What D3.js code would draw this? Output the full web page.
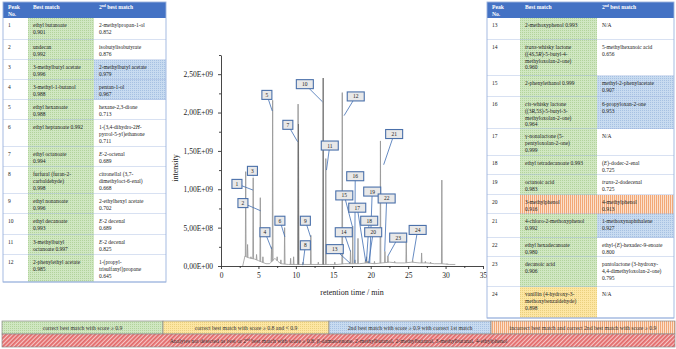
<!DOCTYPE html>
<html><head><meta charset="utf-8">
<script src="https://cdn.jsdelivr.net/npm/d3@7"></script>
<style>
body{margin:0;background:#fff}
svg{display:block}
text{font-family:"Liberation Serif","Times New Roman",serif}
</style>
</head><body>
<svg id="c" width="676" height="349"></svg>
<script>
// ---------------- DATA ----------------
// chromatogram baseline (retention time / min, intensity)
const baseRT  = [2.9, 3.2, 3.6, 4.0, 4.5, 5.0, 5.5, 6.0, 6.5, 7.2, 7.6, 8.0, 9.0, 10.0, 11.0, 12.0, 13.0, 14.5, 15.5, 16.5, 17.5, 18.5, 19.5, 20.5, 21.5, 22.5, 23.5, 24.5, 25.5, 26.5, 27.5, 28.5, 29.5, 30.5, 31.3];
const baseInt = [0, 0.13e9, 0.11e9, 0.10e9, 0.09e9, 0.07e9, 0.05e9, 0.03e9, 0.03e9, 0.10e9, 0.06e9, 0.03e9, 0.02e9, 0.02e9, 0.02e9, 0.02e9, 0.02e9, 0.02e9, 0.02e9, 0.03e9, 0.03e9, 0.03e9, 0.04e9, 0.03e9, 0.04e9, 0.05e9, 0.04e9, 0.04e9, 0.05e9, 0.04e9, 0.04e9, 0.03e9, 0.03e9, 0.02e9, 0.02e9];
// chromatogram peaks
const peakRT  = [3.3, 3.55, 4.0, 4.3, 4.75, 5.25, 5.6, 6.75, 6.9, 7.5, 8.0, 8.5, 9.3, 9.7, 10.3, 10.35, 10.95, 12.0, 13.0, 13.65, 14.0, 15.2, 16.2, 17.2, 17.3, 17.6, 17.9, 18.3, 19.3, 19.45, 19.6, 19.75, 20.5, 21.3, 21.9, 22.3, 23.2, 24.75, 25.6, 26.8, 27.3, 28.0, 29.5, 30.2];
const peakInt = [1.23e9, 0.28e9, 0.12e9, 1.15e9, 0.15e9, 0.89e9, 0.12e9, 0.25e9, 2.16e9, 0.12e9, 0.08e9, 0.50e9, 0.10e9, 0.12e9, 2.11e9, 1.85e9, 0.05e9, 0.40e9, 0.05e9, 2.45e9, 1.40e9, 0.05e9, 2.26e9, 0.05e9, 0.20e9, 0.52e9, 0.08e9, 0.36e9, 0.08e9, 0.12e9, 0.06e9, 0.06e9, 0.06e9, 1.63e9, 0.19e9, 0.13e9, 0.06e9, 0.34e9, 0.08e9, 0.17e9, 0.06e9, 0.05e9, 1.12e9, 0.03e9];
// peak labels: number, label anchor (rt, intensity), pointer target (rt, intensity)
const labelNo   = [1,2,3,4,5,6,7,8,9,10,11,12,13,14,15,16,17,18,19,20,21,22,23,24];
const labelRT   = [2.13, 2.93, 4.2, 5.87, 6.13, 7.87, 8.93, 11.27, 11.27, 11.2, 14.53, 18.0, 15.2, 16.4, 16.47, 17.93, 18.2, 19.8, 20.2, 20.33, 23.13, 22.13, 23.67, 26.27];
const labelInt  = [1.07e9, 0.82e9, 1.24e9, 0.44e9, 2.23e9, 0.59e9, 1.84e9, 0.27e9, 0.59e9, 2.37e9, 1.57e9, 2.21e9, 0.22e9, 0.44e9, 0.92e9, 1.17e9, 0.76e9, 0.59e9, 0.97e9, 0.44e9, 1.72e9, 0.88e9, 0.37e9, 0.47e9];
const targetRT  = [4.27, 5.29, 4.3, 6.76, 6.85, 8.53, 10.23, 10.93, 11.96, 13.56, 14.09, 16.44, 17.2, 17.29, 17.56, 17.87, 19.33, 19.43, 19.87, 19.73, 21.73, 21.87, 22.3, 25.6];
const targetInt = [0.99e9, 0.72e9, 1.17e9, 0.22e9, 2.02e9, 0.38e9, 1.62e9, 0.01e9, 0.38e9, 2.14e9, 1.25e9, 1.96e9, 0.04e9, 0.19e9, 0.51e9, 0.04e9, 0.06e9, 0.06e9, 0.04e9, 0.04e9, 1.32e9, 0.19e9, 0.13e9, 0.08e9];
// axes
const xMajorTicks = [0,5,10,15,20,25,30,35];
const xMinorTicks = [2.5,7.5,12.5,17.5,22.5,27.5,32.5];
const yMajorTicks = [0,0.5e9,1.0e9,1.5e9,2.0e9,2.5e9];
const yMinorTicks = [0.25e9,0.75e9,1.25e9,1.75e9,2.25e9,2.75e9];
const xTitle = "retention time / min";
const yTitle = "intensity";
// tables
const headers = ["Peak|No.", "Best match", "2<sup>nd</sup> best match"];
const leftNo = ["1","2","3","4","5","6","7","8","9","10","11","12"];
const leftBest = [
 ["ethyl butanoate","0.901"],["undecan","0.992"],["3-methylbutyl acetate","0.996"],["3-methyl-1-butanol","0.988"],
 ["ethyl hexanoate","0.988"],["ethyl heptanoate 0.992"],["ethyl octanoate","0.994"],["furfural (furan-2-","carbaldehyde)","0.998"],
 ["ethyl nonanoate","0.996"],["ethyl decanoate","0.993"],["3-methylbutyl","octanoate 0.997"],["2-phenylethyl acetate","0.985"]];
const leftSecond = [
 ["2-methylpropan-1-ol","0.852"],["isobutylisobutyrate","0.876"],["2-methylbutyl acetate","0.979"],["pentan-1-ol","0.967"],
 ["hexane-2,3-dione","0.713"],["1-(3,4-dihydro-2<i>H</i>-","pyrrol-5-yl)ethanone","0.711"],["<i>E</i>-2-octenal","0.689"],
 ["citronellal (3,7-","dimethyloct-6-enal)","0.668"],["2-ethylhexyl acetate","0.702"],["<i>E</i>-2 decenal","0.689"],
 ["<i>E</i>-2 decenal","0.825"],["1-(propyl-","trisulfanyl)propane","0.645"]];
const leftBestClass   = ["g","g","g","g","g","g","g","g","g","g","g","g"];
const leftSecondClass = ["w","w","b","b","w","w","w","w","w","w","w","w"];
const rightNo = ["13","14","15","16","17","18","19","20","21","22","23","24"];
const rightBest = [
 ["2-methoxyphenol 0.993"],["<i>trans</i>-whisky lactone","((4<i>S</i>,5<i>R</i>)-5-butyl-4-","methyloxolan-2-one)","0.960"],
 ["2-phenylethanol 0.999"],["<i>cis</i>-whisky lactone","((3<i>R</i>,5<i>S</i>)-5-butyl-3-","methyloxolan-2-one)","0.964"],
 ["γ-nonalactone (5-","pentyloxolan-2-one)","0.999"],["ethyl tetradecanoate 0.993"],["octanoic acid","0.983"],
 ["3-methylphenol","0.916"],["4-chloro-2-methoxyphenol","0.992"],["ethyl hexadecanoate","0.980"],["decanoic acid","0.906"],
 ["vanillin (4-hydroxy-3-","methoxybenzaldehyde)","0.898"]];
const rightSecond = [
 ["N/A"],["5-methylhexanoic acid","0.656"],["methyl-2-phenylacetate","0.907"],["6-propyloxan-2-one","0.953"],["N/A"],
 ["(<i>E</i>)-dodec-2-enal","0.725"],["<i>trans</i>-2-dodecenal","0.725"],["4-methylphenol","0.913"],["1-methoxynaphthalene","0.927"],
 ["ethyl-(<i>E</i>)-hexadec-9-enoate","0.800"],["pantolactone (3-hydroxy-","4,4-dimethyloxolan-2-one)","0.795"],["N/A"]];
const rightBestClass   = ["g","g","g","g","g","g","g","o","g","g","g","y"];
const rightSecondClass = ["w","w","b","b","w","w","w","o","b","w","w","w"];
// legend
const legendLabels = ["correct best match with score ≥ 0.9","correct best match with score ≥ 0.8 and < 0.9",
 "2nd best match with score ≥ 0.9 with correct 1st match","incorrect best match and correct 2nd best match with score ≥ 0.9"];
const legendClass = ["g","y","b","o"];
const missingNote = "Analytes not detected as best or 2<sup>nd</sup> best match with score ≥ 0.8: β-damascenone, 2-methylbutanol, 2-methylbutanal, 3-methylbutanal, 4-ethylphenol";

// ---------------- LAYOUT ----------------
const svg = d3.select("#c");
const defs = svg.append("defs");
function dots(id, base, dot){
  const p = defs.append("pattern").attr("id",id).attr("width",2).attr("height",2).attr("patternUnits","userSpaceOnUse");
  p.append("rect").attr("width",2).attr("height",2).attr("fill",base);
  p.append("rect").attr("width",1).attr("height",1).attr("fill",dot);
}
dots("pg","#d0e7c2","#b2d39b");
dots("pb","#c8dbf0","#a6c1e2");
dots("py","#fde6a3","#ead07e");
(function(){
  const p = defs.append("pattern").attr("id","po").attr("width",2).attr("height",2).attr("patternUnits","userSpaceOnUse");
  p.append("rect").attr("width",2).attr("height",2).attr("fill","#fbe0cc");
  p.append("rect").attr("width",1).attr("height",2).attr("fill","#f2a877");
  const r = defs.append("pattern").attr("id","pr").attr("width",3).attr("height",3).attr("patternUnits","userSpaceOnUse").attr("patternTransform","rotate(45)");
  r.append("rect").attr("width",3).attr("height",3).attr("fill","#f6c6c6");
  r.append("rect").attr("width",1.8).attr("height",3).attr("fill","#e26a6a");
})();
const fillOf = c => ({g:"url(#pg)",b:"url(#pb)",y:"url(#py)",o:"url(#po)",w:"#ffffff"})[c];

function rich(textSel, str, fs){
  const re = /<i>(.*?)<\/i>|<sup>(.*?)<\/sup>|([^<]+)/g;
  let m, shift = 0;
  while((m = re.exec(str))){
    const t = textSel.append("tspan");
    if(m[1]!==undefined){ t.text(m[1]).style("font-style","italic"); if(shift){t.attr("dy",-shift);shift=0;} }
    else if(m[2]!==undefined){ t.text(m[2]).attr("font-size",fs*0.65).attr("dy",-fs*0.35); shift = -fs*0.35; }
    else { t.text(m[3]); if(shift){t.attr("dy",-shift);shift=0;} }
  }
}

// ---------------- CHART ----------------
const x = d3.scaleLinear().domain([0,35]).range([221,483]);
const y = d3.scaleLinear().domain([0,2.75e9]).range([266,55]);
const baseAt = d3.scaleLinear().domain(baseRT).range(baseInt).clamp(true);

const g = svg.append("g");
g.append("path").datum(baseRT.map((t,i)=>[t,baseInt[i]]))
  .attr("fill","none").attr("stroke","#9a9a9a").attr("stroke-width",0.8)
  .attr("d", d3.line().x(d=>x(d[0])).y(d=>y(d[1])));
const pk = peakRT.map((t,i)=>({t, v:peakInt[i]}));
g.selectAll("path.peak").data(pk).join("path").attr("class","peak")
  .attr("fill","none").attr("stroke",(d,i)=> (d.v>1.8e9 && i%2===1) ? "#6e6e6e" : "#9a9a9a").attr("stroke-width",0.9)
  .attr("d", d => d3.line()([[x(d.t-0.05),y(baseAt(d.t))],[x(d.t),y(d.v)],[x(d.t+0.05),y(baseAt(d.t))]]));

// axes
const fmt = d => { if(d===0) return "0,00E+00"; const e=Math.floor(Math.log10(d)); return (d/10**e).toFixed(2).replace(".",",")+"E+"+String(e).padStart(2,"0"); };
const ax = svg.append("g").attr("transform","translate(0,266)");
ax.call(d3.axisBottom(x).tickValues(xMajorTicks).tickSize(3).tickSizeOuter(0).tickPadding(4).tickFormat(d3.format("d")));
ax.append("g").call(d3.axisBottom(x).tickValues(xMinorTicks).tickSize(2).tickFormat("")).select(".domain").remove();
const ay = svg.append("g").attr("transform","translate(221,0)");
ay.call(d3.axisLeft(y).tickValues(yMajorTicks).tickSize(3).tickSizeOuter(0).tickPadding(5).tickFormat(fmt));
ay.append("g").call(d3.axisLeft(y).tickValues(yMinorTicks).tickSize(2).tickFormat("")).select(".domain").remove();
svg.selectAll(".tick text").attr("font-family","Liberation Serif").attr("font-size",7.5).attr("fill","#222");
svg.selectAll(".domain,.tick line").attr("stroke","#333").attr("stroke-width",0.9);
svg.append("text").attr("x",352).attr("y",295).attr("text-anchor","middle").attr("font-size",8).attr("fill","#222").text(xTitle);
svg.append("text").attr("transform","translate(178,168) rotate(-90)").attr("text-anchor","middle").attr("font-size",8).attr("fill","#222").text(yTitle);

// peak labels
const lab = labelNo.map((n,i)=>({n, lx:x(labelRT[i]), ly:y(labelInt[i]), tx:x(targetRT[i]), ty:y(targetInt[i])}));
svg.append("g").selectAll("line").data(lab).join("line")
  .attr("x1",d=>d.lx).attr("y1",d=>d.ly).attr("x2",d=>d.tx).attr("y2",d=>d.ty)
  .attr("stroke","#3f6db3").attr("stroke-width",0.8);
const lb = svg.append("g").selectAll("g").data(lab).join("g").attr("transform",d=>`translate(${d.lx},${d.ly})`);
lb.append("rect").attr("x",d=>d.n>9?-8.5:-5).attr("y",-4.5).attr("width",d=>d.n>9?17:10).attr("height",9)
  .attr("fill","#e8e8e8").attr("stroke","#4a70aa").attr("stroke-width",1.1);
lb.append("text").attr("text-anchor","middle").attr("y",2).attr("font-size",5.5).attr("fill","#222").text(d=>d.n);

// ---------------- TABLES ----------------
function table(x0, colX, rowTops, nos, best, second, bestCls, secCls){
  const x1 = colX[3];
  const t = svg.append("g");
  const hTop = 2, hBot = rowTops[0];
  t.append("rect").attr("x",x0).attr("y",hTop).attr("width",x1-x0).attr("height",hBot-hTop).attr("fill","#4472c4");
  headers.forEach((h,j)=>{
    h.split("|").forEach((ln,k)=>{
      const tx = t.append("text").attr("x",colX[j]+5).attr("y",9+k*7).attr("font-size",5.6).attr("font-weight","bold").attr("fill","#fff");
      rich(tx, ln, 5.6);
    });
  });
  nos.forEach((n,i)=>{
    const top = rowTops[i], bot = rowTops[i+1];
    t.append("rect").attr("x",colX[0]).attr("y",top).attr("width",colX[1]-colX[0]).attr("height",bot-top).attr("fill","#fff");
    t.append("rect").attr("x",colX[1]).attr("y",top).attr("width",colX[2]-colX[1]).attr("height",bot-top).attr("fill",fillOf(bestCls[i]));
    t.append("rect").attr("x",colX[2]).attr("y",top).attr("width",colX[3]-colX[2]).attr("height",bot-top).attr("fill",fillOf(secCls[i]));
    t.append("text").attr("x",colX[0]+5).attr("y",top+9).attr("font-size",5.5).attr("fill","#222").text(n);
    best[i].forEach((ln,k)=>{ rich(t.append("text").attr("x",colX[1]+5).attr("y",top+9+k*6.8).attr("font-size",5.5).attr("fill","#222"), ln, 5.5); });
    second[i].forEach((ln,k)=>{ rich(t.append("text").attr("x",colX[2]+5).attr("y",top+9+k*6.8).attr("font-size",5.5).attr("fill","#222"), ln, 5.5); });
    t.append("line").attr("x1",x0).attr("x2",x1).attr("y1",bot).attr("y2",bot).attr("stroke","#9cb3dd").attr("stroke-width",0.8);
  });
  t.append("rect").attr("x",x0).attr("y",hTop).attr("width",x1-x0).attr("height",rowTops[rowTops.length-1]-hTop)
    .attr("fill","none").attr("stroke","#9cb3dd").attr("stroke-width",0.9);
}
table(3, [3,28,94,166], [18,40,60,80,100,120,147,167,194,214,235,255,282], leftNo, leftBest, leftSecond, leftBestClass, leftSecondClass);
table(487, [487,520,597,674], [18,40,76,97,129,156,175,195,214,238,257,287,318], rightNo, rightBest, rightSecond, rightBestClass, rightSecondClass);

// ---------------- LEGEND ----------------
const lgX = [2,163,329,491,675];
const lgY = [321,334,347];
const lg = svg.append("g");
legendLabels.forEach((s,i)=>{
  lg.append("rect").attr("x",lgX[i]).attr("y",lgY[0]).attr("width",lgX[i+1]-lgX[i]).attr("height",lgY[1]-lgY[0])
    .attr("fill",fillOf(legendClass[i])).attr("stroke","#8a8a8a").attr("stroke-width",0.7);
  lg.append("text").attr("x",(lgX[i]+lgX[i+1])/2).attr("y",lgY[0]+8.8).attr("text-anchor","middle").attr("font-size",5.7).attr("fill","#333").text(s);
});
lg.append("rect").attr("x",lgX[0]).attr("y",lgY[1]).attr("width",lgX[4]-lgX[0]).attr("height",lgY[2]-lgY[1])
  .attr("fill","url(#pr)").attr("stroke","#8a8a8a").attr("stroke-width",0.7);
rich(lg.append("text").attr("x",(lgX[0]+lgX[4])/2).attr("y",lgY[1]+8.8).attr("text-anchor","middle").attr("font-size",5.7).attr("fill","#333"), missingNote, 5.7);
</script>
</body></html>
